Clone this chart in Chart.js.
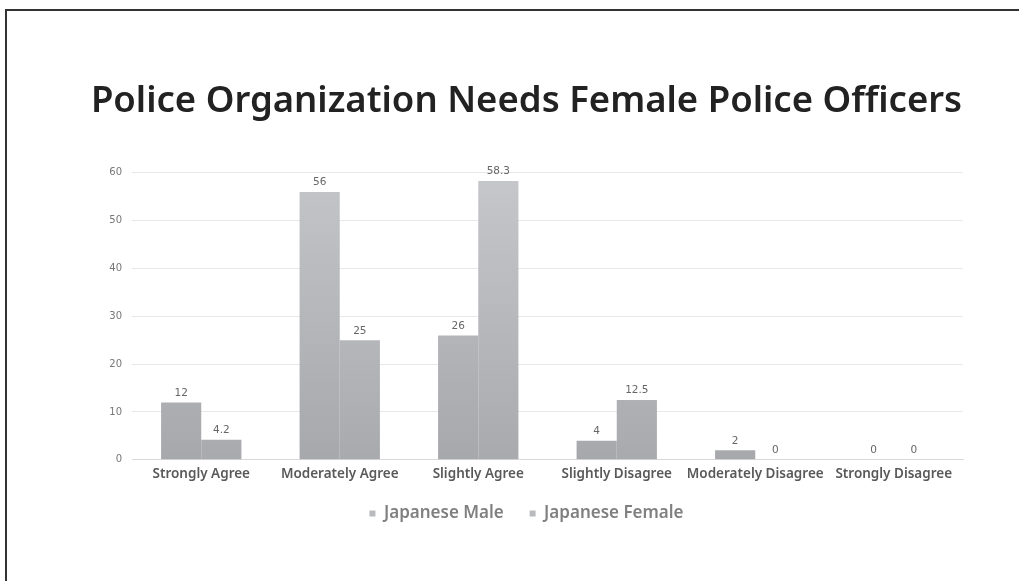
<!DOCTYPE html>
<html>
<head>
<meta charset="utf-8">
<script src="https://cdn.jsdelivr.net/npm/chart.js@4.4.1/dist/chart.umd.min.js"></script>
<style>
html,body{margin:0;padding:0;background:#fff;}
#wrap{position:relative;width:1019px;height:581px;}
#frame{position:absolute;left:5px;top:9px;right:0;bottom:0;border-left:2px solid #333;border-top:2px solid #333;pointer-events:none;}
</style>
</head>
<body>
<div id="wrap"><canvas id="c" width="1019" height="581"></canvas><div id="frame"></div></div>
<script>
const categories = ["Strongly Agree","Moderately Agree","Slightly Agree","Slightly Disagree","Moderately Disagree","Strongly Disagree"];
const maleValues = [12, 56, 26, 4, 2, 0];
const femaleValues = [4.2, 25, 58.3, 12.5, 0, 0];
const seriesNames = ["Japanese Male","Japanese Female"];
const yTicks = [0,10,20,30,40,50,60];
const titleText = "Police Organization Needs Female Police Officers";

function grad(top, bottom){
  return function(ctx){
    const ca = ctx.chart.chartArea;
    if(!ca) return top;
    const g = ctx.chart.ctx.createLinearGradient(0, ca.top, 0, ca.bottom);
    g.addColorStop(0, top);
    g.addColorStop(1, bottom);
    return g;
  };
}

const valueLabels = {
  id:'valueLabels',
  afterDatasetsDraw(chart){
    const ctx = chart.ctx;
    ctx.save();
    ctx.font = '10.5px "DejaVu Sans"';
    ctx.fillStyle = '#666';
    ctx.textAlign = 'center';
    ctx.textBaseline = 'bottom';
    chart.data.datasets.forEach((ds,i)=>{
      const meta = chart.getDatasetMeta(i);
      meta.data.forEach((el,j)=>{
        ctx.fillText(String(ds.data[j]), el.x, el.y - 4);
      });
    });
    ctx.restore();
  }
};

new Chart(document.getElementById('c'), {
  type:'bar',
  data:{
    labels: categories,
    datasets:[
      {label: seriesNames[0], data: maleValues, backgroundColor: grad('#c4c5c8','#a7a8ac'), borderWidth:0, categoryPercentage:0.58, barPercentage:1},
      {label: seriesNames[1], data: femaleValues, backgroundColor: grad('#c6c7ca','#a9aaae'), borderWidth:0, categoryPercentage:0.58, barPercentage:1}
    ]
  },
  options:{
    responsive:false,
    animation:false,
    layout:{padding:{left:90, right:56, top:0, bottom:49}},
    plugins:{
      title:{display:true, text:titleText, color:'#222', font:{family:'"Noto Sans"', size:36.5, weight:'600'}, padding:{top:80, bottom:49}},
      legend:{position:'bottom', labels:{color:'#808080', font:{family:'"Noto Sans"', size:17, weight:'600'}, boxWidth:6, boxHeight:6, padding:17,
        generateLabels(chart){
          const items = Chart.defaults.plugins.legend.labels.generateLabels(chart);
          items.forEach((it,i)=>{ it.fillStyle = '#b9babd'; it.strokeStyle='#b9babd'; it.lineWidth=0; if(i < items.length-1) it.text = it.text + '  '; });
          return items;
        }}},
      tooltip:{enabled:false}
    },
    scales:{
      x:{
        grid:{display:false, drawTicks:false},
        border:{display:true, color:'#d9d9d9'},
        ticks:{color:'#595959', font:{family:'"Noto Sans"', size:13.5, weight:'600'}, padding:6, maxRotation:0, autoSkip:false}
      },
      y:{
        min:0, max:60,
        afterBuildTicks(axis){ axis.ticks = yTicks.map(v=>({value:v})); },
        afterFit(axis){ axis.width = 42; },
        grid:{color:'#e8e8e8', drawTicks:false},
        border:{display:false},
        ticks:{color:'#777', font:{family:'"DejaVu Sans"', size:10}, padding:10}
      }
    }
  },
  plugins:[valueLabels]
});
</script>
</body>
</html>
